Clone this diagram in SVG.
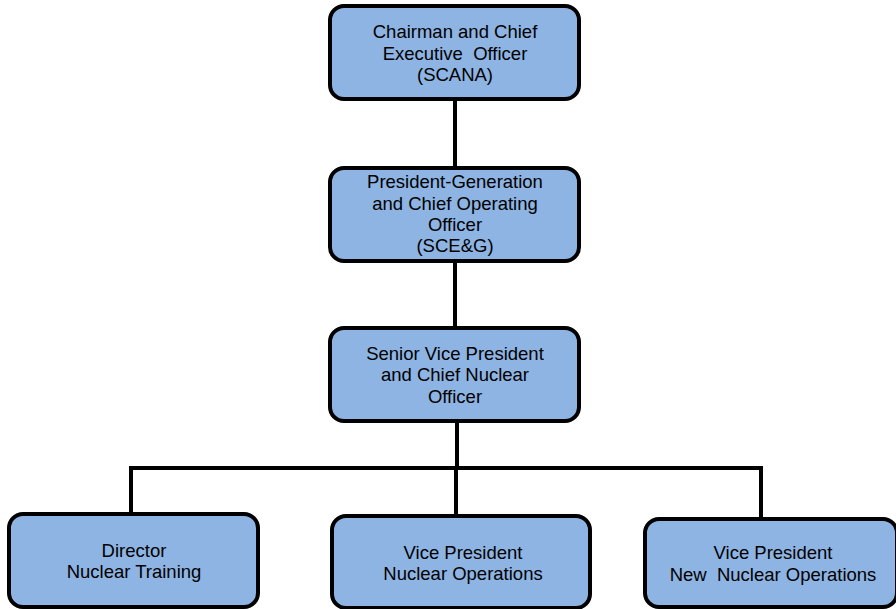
<svg xmlns="http://www.w3.org/2000/svg" width="896" height="609" viewBox="0 0 896 609">
<style>
.box{fill:#8eb4e3;stroke:#000;stroke-width:4}
.t{font-family:"Liberation Sans",Arial,sans-serif;font-size:18.5px;fill:#000;text-anchor:middle}
.c{fill:none;stroke:#000;stroke-width:4}
</style>
<rect width="896" height="609" fill="#fff"/>
<g id="connectors">
<line class="c" x1="455" y1="99" x2="455" y2="167"/>
<line class="c" x1="455" y1="261" x2="455" y2="328"/>
<line class="c" x1="457" y1="420" x2="457" y2="468"/>
<polyline class="c" points="131,513 131,468 761,468 761,519"/>
<line class="c" x1="456" y1="468" x2="456" y2="516"/>
</g>
<g id="ceo">
<rect class="box" x="330" y="6" width="249" height="93" rx="14"/>
<text class="t" x="455" y="37.5">Chairman and Chief</text>
<text class="t" x="455" y="59.5" xml:space="preserve">Executive  Officer</text>
<text class="t" x="455" y="80.5">(SCANA)</text>
</g>
<g id="coo">
<rect class="box" x="330" y="168" width="249" height="93" rx="14"/>
<text class="t" x="455" y="187.5">President-Generation</text>
<text class="t" x="455" y="209.5">and Chief Operating</text>
<text class="t" x="455" y="230.5">Officer</text>
<text class="t" x="455" y="251.5">(SCE&amp;G)</text>
</g>
<g id="cno">
<rect class="box" x="330" y="328" width="249" height="93" rx="14"/>
<text class="t" x="455" y="359.5">Senior Vice President</text>
<text class="t" x="455" y="380.5">and Chief Nuclear</text>
<text class="t" x="455" y="402.5">Officer</text>
</g>
<g id="training">
<rect class="box" x="9" y="514" width="249" height="93" rx="14"/>
<text class="t" x="134" y="556.5">Director</text>
<text class="t" x="134" y="577.5">Nuclear Training</text>
</g>
<g id="ops">
<rect class="box" x="332" y="516" width="258" height="92" rx="14"/>
<text class="t" x="463" y="558.5">Vice President</text>
<text class="t" x="463" y="579.5">Nuclear Operations</text>
</g>
<g id="newops">
<rect class="box" x="645" y="519" width="252" height="88" rx="14"/>
<text class="t" x="773" y="558.5">Vice President</text>
<text class="t" x="773" y="580.5" xml:space="preserve">New  Nuclear Operations</text>
</g>
</svg>
